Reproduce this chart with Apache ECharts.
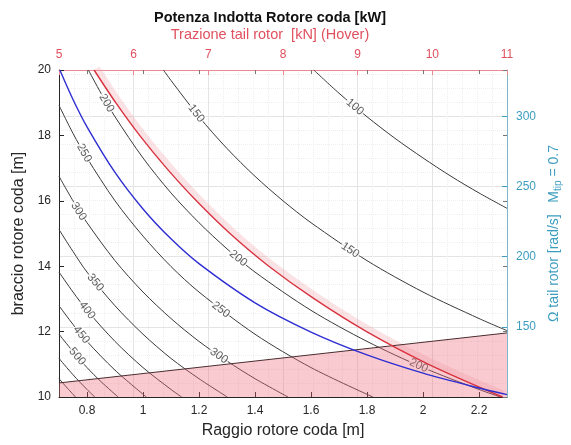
<!DOCTYPE html>
<html>
<head>
<meta charset="utf-8">
<script src="https://cdn.jsdelivr.net/npm/echarts@6/dist/echarts.min.js"></script>
<style>
  html, body { margin: 0; padding: 0; background: #fff; }
  #chart { width: 571px; height: 445px; }
</style>
</head>
<body>
<div id="chart"></div>
<script>
const FONT = '"Liberation Sans", Arial, Helvetica, sans-serif';

// Tick labels
const radiusTicks = [0.8, 1, 1.2, 1.4, 1.6, 1.8, 2, 2.2];
const omegaTicks = [150, 200, 250, 300];

// Induced power iso-lines [kW]: points are [tail rotor radius m, tail boom arm m]
const contourLevels = [100, 150, 200, 250, 300, 350, 400, 450, 500, 550, 600];
const contour100 = [[1.61, 20], [1.7, 19.29], [1.8, 18.57], [1.9, 17.91], [2.0, 17.31], [2.1, 16.75], [2.2, 16.24], [2.3, 15.77]];
const contour150 = [[1.073, 20], [1.1, 19.68], [1.2, 18.57], [1.3, 17.6], [1.4, 16.75], [1.5, 16.0], [1.6, 15.33], [1.8, 14.17], [2.0, 13.21], [2.2, 12.4], [2.3, 12.03]];
const contour200 = [[0.805, 20], [0.85, 19.29], [0.9, 18.57], [1.0, 17.31], [1.1, 16.24], [1.2, 15.33], [1.3, 14.53], [1.4, 13.82], [1.6, 12.65], [1.8, 11.7], [2.0, 10.9], [2.2, 10.23], [2.277, 10]];
const contour250 = [[0.7, 18.92], [0.75, 18.06], [0.8, 17.31], [0.9, 16.0], [1.0, 14.92], [1.1, 13.99], [1.2, 13.21], [1.4, 11.92], [1.6, 10.9], [1.821, 10]];
const contour300 = [[0.7, 16.75], [0.75, 16.0], [0.8, 15.33], [0.9, 14.17], [1.0, 13.21], [1.1, 12.4], [1.2, 11.7], [1.3, 11.1], [1.4, 10.56], [1.518, 10]];
const contour350 = [[0.7, 15.12], [0.75, 14.45], [0.8, 13.82], [0.9, 12.79], [1.0, 11.92], [1.1, 11.18], [1.2, 10.56], [1.301, 10]];
const contour400 = [[0.7, 13.82], [0.75, 13.21], [0.8, 12.65], [0.9, 11.7], [1.0, 10.9], [1.1, 10.23], [1.138, 10]];
const contour450 = [[0.7, 12.79], [0.75, 12.22], [0.8, 11.7], [0.9, 10.82], [1.012, 10]];
const contour500 = [[0.7, 11.92], [0.75, 11.39], [0.8, 10.9], [0.85, 10.47], [0.911, 10]];
const contour550 = [[0.7, 11.18], [0.75, 10.68], [0.8, 10.23], [0.828, 10]];
const contour600 = [[0.7, 10.56], [0.73, 10.27], [0.759, 10]];
const contourLines = [contour100, contour150, contour200, contour250, contour300, contour350,
                      contour400, contour450, contour500, contour550, contour600];

// Inline labels on the iso-lines: [radius, arm, level]
const contourLabels = [
  [1.757, 18.87, 100],
  [1.19, 18.67, 150], [1.74, 14.49, 150],
  [0.87, 18.99, 200], [1.34, 14.24, 200], [1.985, 10.96, 200],
  [0.79, 17.46, 250], [1.278, 12.67, 250],
  [0.77, 15.68, 300], [1.271, 11.26, 300],
  [0.83, 13.5, 350],
  [0.8, 12.65, 400],
  [0.78, 11.9, 450],
  [0.765, 11.24, 500]
];

// Tail rotor thrust in hover [kN] against boom arm [m] (top axis)
const thrustArm   = [20, 19, 18, 17, 16, 15, 14, 13, 12, 11, 10];
const thrustValue = [5.47, 5.76, 6.08, 6.44, 6.84, 7.29, 7.81, 8.42, 9.12, 9.95, 10.94];

// Tail rotor angular speed at Mtip = 0.7 [rad/s] against radius (right axis)
const omegaRadius = [0.703, 0.75, 0.8, 0.9, 1.0, 1.1, 1.2, 1.4, 1.6, 1.8, 2.0, 2.2, 2.3];
const omegaValue  = [333, 312, 292.5, 260, 234, 212.7, 195, 167.1, 146.3, 130, 117, 106.4, 101.7];

// Minimum arm for rotor clearance
const clearanceRadius = [0.7, 2.3];
const clearanceArm    = [10.43, 11.96];

const INK = '#262626';
const RED = '#e0505e';
const TEAL = '#3d9dbf';
const GRID_MAJOR = '#e4e4e4';
const GRID_MINOR = '#efefef';

const chart = echarts.init(document.getElementById('chart'), null, { renderer: 'canvas' });

const thrustData = thrustArm.map((a, i) => [thrustValue[i], a]);
const omegaData = omegaRadius.map((r, i) => [r, omegaValue[i]]);
const clearanceData = clearanceRadius.map((r, i) => [r, clearanceArm[i]]);

const contourSeries = contourLines.map((pts, i) => ({
  type: 'line',
  name: 'P' + contourLevels[i],
  xAxisIndex: 0, yAxisIndex: 0,
  data: pts,
  smooth: 0.3,
  symbol: 'none',
  silent: true,
  z: 2,
  lineStyle: { color: '#3a3a3a', width: 1 }
}));

const option = {
  animation: false,
  textStyle: { fontFamily: FONT },
  title: [
    {
      text: 'Potenza Indotta Rotore coda [kW]',
      left: 265, top: 5, textAlign: 'center',
      textStyle: { fontFamily: FONT, fontSize: 14.5, fontWeight: 'bold', color: '#111' }
    },
    {
      text: 'Trazione tail rotor  [kN] (Hover)',
      left: 265, top: 22, textAlign: 'center',
      textStyle: { fontFamily: FONT, fontSize: 14.5, fontWeight: 'normal', color: RED }
    }
  ],
  grid: { left: 59, right: 54, top: 70, bottom: 48, containLabel: false },
  xAxis: [
    {
      type: 'value', position: 'bottom', min: 0.7, max: 2.3,
      name: 'Raggio rotore coda [m]', nameLocation: 'middle', nameGap: 26,
      nameTextStyle: { fontFamily: FONT, fontSize: 16, color: INK },
      axisLine: { show: true, onZero: false, lineStyle: { color: INK, width: 1 } },
      axisTick: { show: true, inside: true, length: 5, customValues: radiusTicks, lineStyle: { color: INK } },
      axisLabel: { show: true, customValues: radiusTicks, margin: 8, fontSize: 12, color: INK, fontFamily: FONT },
      splitLine: { show: false }
    },
    {
      type: 'value', position: 'top', min: 5, max: 11, interval: 1,
      axisLine: { show: true, onZero: false, lineStyle: { color: '#ec8a94', width: 1 } },
      axisTick: { show: true, inside: true, length: 5, lineStyle: { color: '#ec8a94' } },
      axisLabel: { show: true, margin: 9, fontSize: 12, color: RED, fontFamily: FONT },
      splitLine: { show: true, lineStyle: { color: GRID_MAJOR, width: 1 } },
      minorSplitLine: { show: true, lineStyle: { color: GRID_MINOR, width: 1, type: 'dotted' } },
      minorTick: { show: false, splitNumber: 5 }
    },
    {
      // bottom ticks repeated along the top edge
      type: 'value', position: 'top', min: 0.7, max: 2.3,
      axisLine: { show: false },
      axisTick: { show: true, inside: true, length: 4, customValues: radiusTicks, lineStyle: { color: '#777' } },
      axisLabel: { show: false },
      splitLine: { show: false }
    }
  ],
  yAxis: [
    {
      type: 'value', position: 'left', min: 10, max: 20, interval: 2,
      name: 'braccio rotore coda [m]', nameLocation: 'middle', nameGap: 31,
      nameTextStyle: { fontFamily: FONT, fontSize: 16, color: INK },
      axisLine: { show: true, onZero: false, lineStyle: { color: INK, width: 1 } },
      axisTick: { show: true, inside: true, length: 5, lineStyle: { color: INK } },
      axisLabel: { show: true, margin: 8, fontSize: 12, color: INK, fontFamily: FONT },
      splitLine: { show: false }
    },
    {
      type: 'value', position: 'right', min: 100, max: 333, interval: 50,
      name: 'Ω tail rotor [rad/s]   M{sub|tip} = 0.7',
      nameLocation: 'middle', nameGap: 38,
      nameTextStyle: {
        fontFamily: FONT, fontSize: 14, color: TEAL,
        rich: { sub: { fontFamily: FONT, fontSize: 10, color: TEAL, padding: [8, 0, 0, 0] } }
      },
      axisLine: { show: true, onZero: false, lineStyle: { color: '#7fb6cc', width: 1 } },
      axisTick: { show: true, inside: true, length: 5, customValues: omegaTicks, lineStyle: { color: TEAL } },
      axisLabel: { show: true, customValues: omegaTicks, margin: 9, fontSize: 12, color: TEAL, fontFamily: FONT },
      splitLine: { show: true, lineStyle: { color: GRID_MAJOR, width: 1 } },
      minorSplitLine: { show: true, lineStyle: { color: GRID_MINOR, width: 1, type: 'dotted' } },
      minorTick: { show: false, splitNumber: 5 }
    },
    {
      // arm ticks repeated along the right edge
      type: 'value', position: 'right', min: 10, max: 20, interval: 2,
      axisLine: { show: false },
      axisTick: { show: true, inside: true, length: 4, lineStyle: { color: '#777' } },
      axisLabel: { show: false },
      splitLine: { show: false }
    }
  ],
  series: [
    ...contourSeries,
    {
      id: 'labels',
      type: 'scatter',
      xAxisIndex: 0, yAxisIndex: 0,
      data: contourLabels,
      symbolSize: 0.1,
      itemStyle: { color: 'rgba(0,0,0,0)' },
      silent: true,
      z: 3,
      label: {
        show: true, position: 'inside',
        formatter: p => String(p.value[2]),
        fontFamily: FONT, fontSize: 11.5, color: '#333',
        backgroundColor: '#fff', padding: [0, 1, 0, 1]
      }
    },
    {
      id: 'clearance',
      type: 'line',
      xAxisIndex: 0, yAxisIndex: 0,
      data: clearanceData,
      symbol: 'none',
      silent: true,
      z: 4,
      lineStyle: { color: '#4a2c30', width: 1 },
      areaStyle: { color: 'rgba(238,104,120,0.5)', origin: 'start' }
    },
    {
      id: 'thrustBand',
      type: 'custom',
      xAxisIndex: 1, yAxisIndex: 0,
      data: thrustData,
      silent: true,
      z: 4,
      renderItem: (params, api) => {
        if (params.dataIndex !== 0) return null;
        const px = thrustData.map(d => api.coord(d));
        const off = 3.5;
        const pts = px.map((p, i) => {
          const a = px[Math.max(0, i - 1)], b = px[Math.min(px.length - 1, i + 1)];
          const dx = b[0] - a[0], dy = b[1] - a[1];
          const len = Math.hypot(dx, dy) || 1;
          return [p[0] + off * dy / len, p[1] - off * dx / len];
        });
        return {
          type: 'polyline',
          shape: { points: pts, smooth: 0.3 },
          style: { stroke: 'rgba(240,150,160,0.28)', lineWidth: 6, fill: null }
        };
      }
    },
    {
      id: 'thrust',
      type: 'line',
      xAxisIndex: 1, yAxisIndex: 0,
      data: thrustData,
      smooth: 0.3,
      symbol: 'none',
      silent: true,
      z: 5,
      lineStyle: { color: '#d8323f', width: 1.4 }
    },
    {
      id: 'omega',
      type: 'line',
      xAxisIndex: 0, yAxisIndex: 1,
      data: omegaData,
      smooth: 0.3,
      symbol: 'none',
      silent: true,
      z: 5,
      lineStyle: { color: '#2e2ed2', width: 1.4 }
    }
  ]
};

chart.setOption(option);

// Turn each inline label to follow its iso-line
function localAngle(line, r) {
  let i = 0;
  while (i < line.length - 2 && line[i + 1][0] < r) i++;
  const a = chart.convertToPixel({ xAxisIndex: 0, yAxisIndex: 0 }, line[i]);
  const b = chart.convertToPixel({ xAxisIndex: 0, yAxisIndex: 0 }, line[i + 1]);
  return -Math.atan2(b[1] - a[1], b[0] - a[0]) * 180 / Math.PI;
}

const labelData = contourLabels.map(d => {
  const line = contourLines[contourLevels.indexOf(d[2])];
  return { value: d, label: { rotate: localAngle(line, d[0]) } };
});
chart.setOption({ series: [{ id: 'labels', data: labelData }] });
</script>
</body>
</html>
